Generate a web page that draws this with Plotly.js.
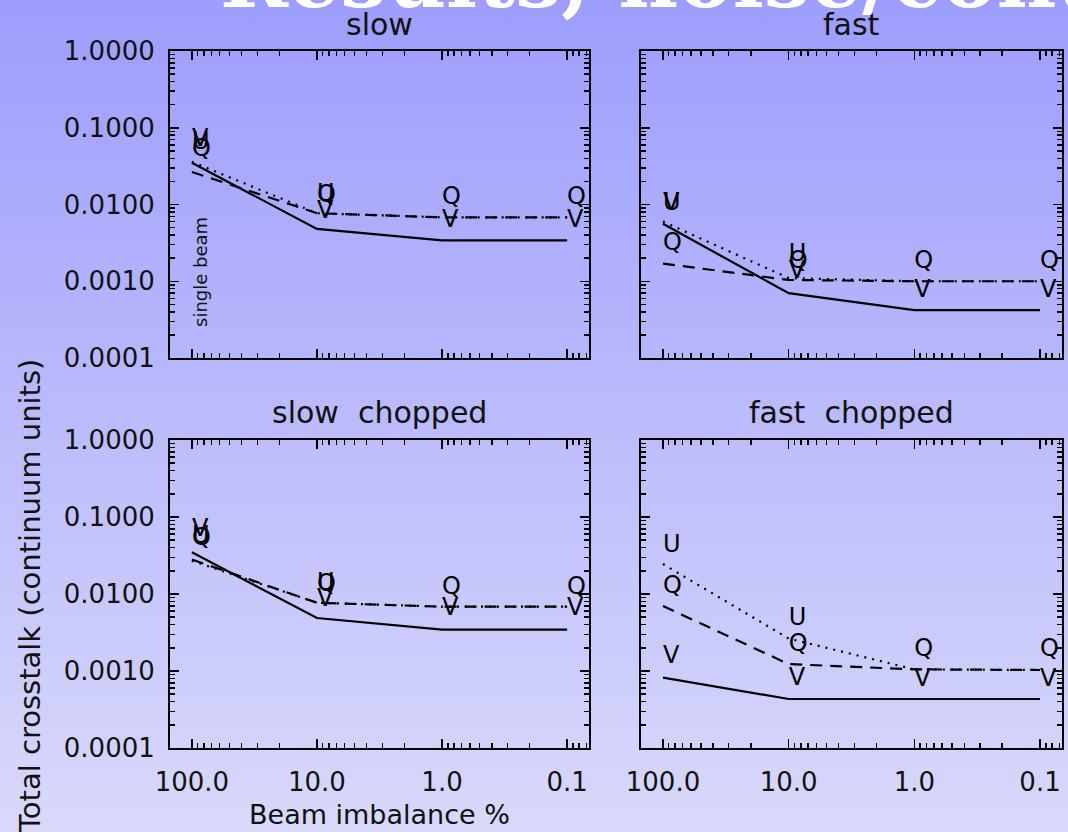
<!DOCTYPE html>
<html><head><meta charset="utf-8">
<script src="https://cdn.plot.ly/plotly-3.0.1.min.js"></script>
<style>
html,body{margin:0;padding:0;}
body{width:1068px;height:832px;overflow:hidden;background:linear-gradient(to bottom,#9d9dfd 0%,#d9d9fb 100%);}
#chart{width:1068px;height:832px;}
</style></head><body><div id="chart"></div>
<script>
// x: beam imbalance (%)
const beamImbalance = [100, 10, 1, 0.1];
const xTickText = ['100.0', '10.0', '1.0', '0.1'];
const yTickVals = [1, 0.1, 0.01, 0.001, 0.0001];
const yTickText = ['1.0000', '0.1000', '0.0100', '0.0010', '0.0001'];
const panelTitles = ['slow', 'fast', 'slow\u00a0\u00a0chopped', 'fast\u00a0\u00a0chopped'];

// curves (dashed = Q, dotted = U, solid = V)
const slowQ = [0.0265, 0.0077, 0.0068, 0.0068];
const slowU = [0.036, 0.0077, 0.0068, 0.0068];
const slowV = [0.035, 0.0048, 0.0034, 0.0034];
const fastQ = [0.0017, 0.00104, 0.0010, 0.0010];
const fastU = [0.0060, 0.0011, 0.0010, 0.0010];
const fastV = [0.0056, 0.0007, 0.00042, 0.00042];
const slowChopQ = [0.028, 0.0077, 0.00685, 0.00685];
const slowChopU = [0.027, 0.0077, 0.00685, 0.00685];
const slowChopV = [0.0348, 0.00488, 0.00344, 0.00344];
const fastChopQ = [0.00698, 0.00123, 0.00105, 0.00103];
const fastChopU = [0.0245, 0.00264, 0.00105, 0.00103];
const fastChopV = [0.00082, 0.000433, 0.000433, 0.000433];

// letter labels (Q, U, V) positions
const slowLabQ = [0.051, 0.0129, 0.0123, 0.0123];
const slowLabU = [0.063, 0.0135, null, null];
const slowLabV = [0.069, 0.0080, 0.0061, 0.0061];
const fastLabQ = [0.00306, 0.0018, 0.0018, 0.0018];
const fastLabU = [0.0102, 0.0022, null, null];
const fastLabV = [0.0102, 0.00133, 0.000746, 0.000746];
const slowChopLabQ = [0.0518, 0.0131, 0.0121, 0.0121];
const slowChopLabU = [0.055, 0.0133, null, null];
const slowChopLabV = [0.0678, 0.00836, 0.00638, 0.00638];
const fastChopLabQ = [0.01245, 0.00218, 0.00187, 0.00187];
const fastChopLabU = [0.0424, 0.00473, null, null];
const fastChopLabV = [0.0015, 0.000787, 0.000764, 0.000764];

const panels = [
  {q: slowQ, u: slowU, v: slowV, lq: slowLabQ, lu: slowLabU, lv: slowLabV},
  {q: fastQ, u: fastU, v: fastV, lq: fastLabQ, lu: fastLabU, lv: fastLabV},
  {q: slowChopQ, u: slowChopU, v: slowChopV, lq: slowChopLabQ, lu: slowChopLabU, lv: slowChopLabV},
  {q: fastChopQ, u: fastChopU, v: fastChopV, lq: fastChopLabQ, lu: fastChopLabU, lv: fastChopLabV}
];

// minor tick positions (2..9 x each decade)
function minorTicks(e0, e1) {
  const out = [];
  for (let e = e0; e < e1; e++) for (let k = 2; k <= 9; k++) out.push(+(k * Math.pow(10, e)).toPrecision(3));
  return out;
}
const xMinor = minorTicks(-2, 3);
const yMinor = minorTicks(-4, 0);

const W = 1068, H = 832;
const px = p => p / W;
const py = p => 1 - p / H;
const FONT = 'DejaVu Sans, sans-serif';

const boxes = [
  {x0: 170, x1: 589, y0: 51, y1: 358},
  {x0: 641, x1: 1062, y0: 51, y1: 358},
  {x0: 170, x1: 589, y0: 440, y1: 748},
  {x0: 641, x1: 1062, y0: 440, y1: 748}
];

const traces = [];
const layout = {
  width: W, height: H,
  margin: {l: 0, r: 0, t: 0, b: 0},
  paper_bgcolor: 'rgba(0,0,0,0)',
  plot_bgcolor: 'rgba(0,0,0,0)',
  showlegend: false,
  font: {family: FONT, color: '#000'},
  annotations: []
};

panels.forEach((p, i) => {
  const n = i + 1;
  const xa = 'x' + (n === 1 ? '' : n), ya = 'y' + (n === 1 ? '' : n);
  const b = boxes[i];
  const lineStyle = (dash) => ({color: '#000', width: 2.2, dash: dash});
  traces.push({x: beamImbalance, y: p.v, xaxis: xa, yaxis: ya, mode: 'lines', line: lineStyle('solid'), hoverinfo: 'skip'});
  traces.push({x: beamImbalance, y: p.q, xaxis: xa, yaxis: ya, mode: 'lines', line: lineStyle('12px,8px'), hoverinfo: 'skip'});
  traces.push({x: beamImbalance, y: p.u, xaxis: xa, yaxis: ya, mode: 'lines', line: lineStyle('2px,6px'), hoverinfo: 'skip'});
  [['Q', p.lq], ['U', p.lu], ['V', p.lv]].forEach(([letter, vals]) => {
    traces.push({x: beamImbalance, y: vals, xaxis: xa, yaxis: ya, mode: 'text',
      text: vals.map(v => v == null ? '' : letter), textposition: 'middle right',
      textfont: {family: FONT, size: 24, color: '#000'}, hoverinfo: 'skip'});
  });
  const common = {
    type: 'log', showgrid: false, zeroline: false,
    showline: true, linecolor: '#000', linewidth: 2, mirror: 'ticks',
    ticks: 'inside', ticklen: 9, tickwidth: 1.5, tickcolor: '#000',
    tickfont: {family: FONT, size: 26, color: '#111'},
    fixedrange: true
  };
  const xKey = 'xaxis' + (n === 1 ? '' : n), yKey = 'yaxis' + (n === 1 ? '' : n);
  layout[xKey] = Object.assign({}, common, {
    domain: [px(b.x0), px(b.x1)], anchor: ya,
    range: [2.175, -1.175], tickmode: 'array', tickvals: beamImbalance, ticktext: xTickText,
    minor: {tickmode: 'array', tickvals: xMinor, ticks: 'inside', ticklen: 5, tickwidth: 1.5, tickcolor: '#000', showgrid: false},
    showticklabels: n >= 3, ticklabelstandoff: 10
  });
  layout[yKey] = Object.assign({}, common, {
    domain: [py(b.y1), py(b.y0)], anchor: xa,
    range: [-4, 0], tickmode: 'array', tickvals: yTickVals, ticktext: yTickText,
    minor: {tickmode: 'array', tickvals: yMinor, ticks: 'inside', ticklen: 5, tickwidth: 1.5, tickcolor: '#000', showgrid: false},
    showticklabels: n === 1 || n === 3, ticklabelstandoff: 8
  });
  layout.annotations.push({
    xref: 'paper', yref: 'paper', x: px((b.x0 + b.x1) / 2), y: py(b.y0 - (n <= 2 ? 27 : 28)),
    xanchor: 'center', yanchor: 'middle', showarrow: false, text: panelTitles[i],
    font: {family: FONT, size: 30, color: '#111'}
  });
});

layout.annotations.push({
  xref: 'paper', yref: 'paper', x: px(201), y: py(272), xanchor: 'center', yanchor: 'middle',
  showarrow: false, text: 'single beam', textangle: -90, font: {family: FONT, size: 18, color: '#111'}
});
layout.annotations.push({
  xref: 'paper', yref: 'paper', x: px(379), y: py(814), xanchor: 'center', yanchor: 'middle',
  showarrow: false, text: 'Beam imbalance %', font: {family: FONT, size: 27, color: '#111'}
});
layout.annotations.push({
  xref: 'paper', yref: 'paper', x: px(30), y: py(596), xanchor: 'center', yanchor: 'middle',
  showarrow: false, text: 'Total crosstalk (continuum units)', textangle: -90,
  font: {family: FONT, size: 29, color: '#111'}
});
layout.annotations.push({
  xref: 'paper', yref: 'paper', x: px(218), y: py(-22), xanchor: 'left', yanchor: 'middle',
  showarrow: false, text: 'Results, noise/continuum', font: {family: 'DejaVu Serif', size: 82, color: '#fff', weight: 'bold'}
});

Plotly.newPlot('chart', traces, layout, {staticPlot: true, displayModeBar: false});
</script></body></html>
